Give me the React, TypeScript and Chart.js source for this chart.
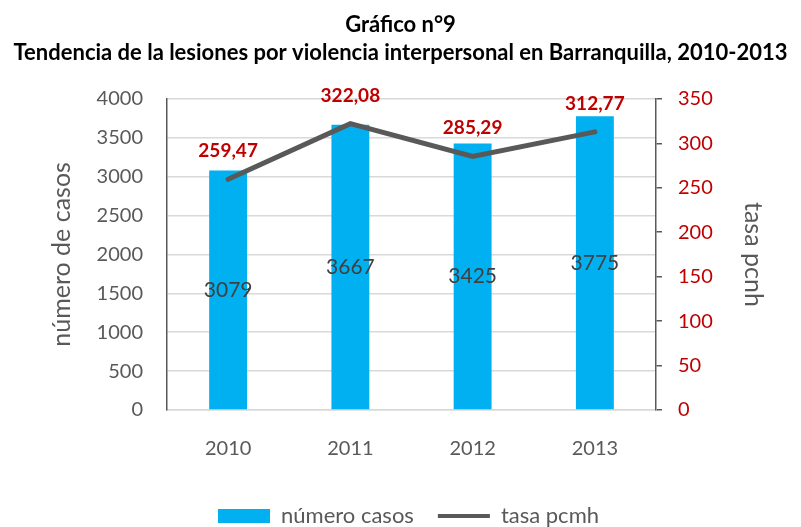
import { useEffect, useRef } from 'react';
import { Chart, registerables } from 'chart.js';

Chart.register(...registerables);

const categories = ['2010', '2011', '2012', '2013'];
const casos = [3079, 3667, 3425, 3775];
const tasa = [259.47, 322.08, 285.29, 312.77];
const leftTicksMax = 4000;
const rightTicksMax = 350;

const FONT = 'Lato';
const GRAY = '#595959';
const RED = '#C00000';
const BLUE = '#00B0F0';

const fmtComma = (v: number) => v.toFixed(2).replace('.', ',');

const valueLabels = {
  id: 'valueLabels',
  afterDatasetsDraw(chart: any) {
    const ctx = chart.ctx;
    ctx.save();
    ctx.textAlign = 'center';
    ctx.textBaseline = 'middle';
    const barMeta = chart.getDatasetMeta(0);
    ctx.font = `21px ${FONT}`;
    ctx.fillStyle = '#404040';
    barMeta.data.forEach((el: any, i: number) => {
      const p = el.getProps(['x', 'y', 'base'], true);
      ctx.fillText(String(casos[i]), p.x, (p.y + p.base) / 2);
    });
    const lineMeta = chart.getDatasetMeta(1);
    ctx.font = `bold 19px ${FONT}`;
    ctx.fillStyle = RED;
    lineMeta.data.forEach((el: any, i: number) => {
      const p = el.getProps(['x', 'y'], true);
      ctx.fillText(fmtComma(tasa[i]), p.x, p.y - 28);
    });
    ctx.restore();
  },
};

const shiftLegend = {
  id: 'shiftLegend',
  afterLayout(chart: any) {
    if (chart.legend) {
      chart.legend.top += 10;
      chart.legend.bottom += 10;
      chart.legend.left += 8;
      chart.legend.right += 8;
    }
  },
};

export default function App() {
  const ref = useRef<HTMLCanvasElement>(null);
  useEffect(() => {
    if (!ref.current) return;
    const chart = new Chart(ref.current, {
      type: 'bar',
      data: {
        labels: categories,
        datasets: [
          {
            type: 'bar',
            label: 'número casos',
            data: casos,
            backgroundColor: BLUE,
            borderWidth: 0,
            yAxisID: 'y',
            barPercentage: 0.31,
            categoryPercentage: 1,
            order: 2,
          } as any,
          {
            type: 'line',
            label: 'tasa pcmh',
            data: tasa,
            borderColor: GRAY,
            backgroundColor: GRAY,
            borderWidth: 5,
            borderCapStyle: 'round',
            pointRadius: 0,
            tension: 0,
            yAxisID: 'y1',
            order: 1,
          } as any,
        ],
      },
      options: {
        animation: false,
        responsive: false,
        devicePixelRatio: 1,
        layout: { padding: 0 },
        plugins: {
          tooltip: { enabled: false },
          title: {
            display: true,
            text: 'Gráfico n°9',
            color: '#000',
            font: { family: FONT, size: 22, weight: 'bold' },
            padding: { top: 12, bottom: 0 },
          },
          subtitle: {
            display: true,
            text: 'Tendencia de la lesiones por violencia interpersonal en Barranquilla, 2010-2013',
            color: '#000',
            font: { family: FONT, size: 22, weight: 'bold' },
            padding: { top: 1, bottom: 33 },
          },
          legend: {
            position: 'bottom',
            labels: {
              color: GRAY,
              font: { family: FONT, size: 22 },
              usePointStyle: true,
              pointStyleWidth: 52,
              boxHeight: 14,
              padding: 24,
              generateLabels(chart: any) {
                const items = Chart.defaults.plugins.legend.labels.generateLabels(chart);
                items.sort((a: any, b: any) => a.datasetIndex - b.datasetIndex);
                return items.map((it: any) => {
                  if (it.datasetIndex === 0) {
                    return { ...it, pointStyle: 'rect', lineWidth: 0, fillStyle: BLUE, strokeStyle: BLUE };
                  }
                  return { ...it, pointStyle: 'line', lineWidth: 4, strokeStyle: GRAY, fillStyle: GRAY, lineCap: 'butt' };
                });
              },
            },
          },
        },
        scales: {
          x: {
            grid: { display: false, drawTicks: false },
            border: { display: true, color: '#d9d9d9', width: 1.5 },
            ticks: { color: GRAY, font: { family: FONT, size: 20 }, padding: 27 },
            afterFit(scale: any) {
              scale.height = 61;
            },
          },
          y: {
            position: 'left',
            min: 0,
            max: leftTicksMax,
            ticks: {
              stepSize: 500,
              color: GRAY,
              font: { family: FONT, size: 20 },
              padding: 24,
              callback: (v: any) => String(v),
            },
            grid: { color: '#d9d9d9', lineWidth: 1.5, drawTicks: false },
            border: { display: true, color: GRAY, width: 1.5 },
            title: {
              display: true,
              text: 'número de casos',
              color: GRAY,
              font: { family: FONT, size: 25 },
              padding: { top: 47, bottom: 0 },
            },
            afterFit(scale: any) {
              scale.width = 167;
            },
          },
          y1: {
            position: 'right',
            min: 0,
            max: rightTicksMax,
            ticks: { stepSize: 50, color: RED, font: { family: FONT, size: 20 }, padding: 16 },
            grid: { drawOnChartArea: false, drawTicks: true, tickLength: 6, color: GRAY, lineWidth: 1.5 },
            border: { display: true, color: GRAY, width: 1.5 },
            title: {
              display: true,
              text: 'tasa pcnh',
              color: GRAY,
              font: { family: FONT, size: 25 },
              padding: { top: 33, bottom: 0 },
            },
            afterFit(scale: any) {
              scale.width = 145;
            },
          },
        },
      } as any,
      plugins: [valueLabels, shiftLegend],
    });
    return () => chart.destroy();
  }, []);
  return (
    <div style={{ position: 'fixed', left: 0, top: 0, width: 801, height: 527, background: '#fff' }}>
      <canvas ref={ref} width={801} height={527} />
    </div>
  );
}
